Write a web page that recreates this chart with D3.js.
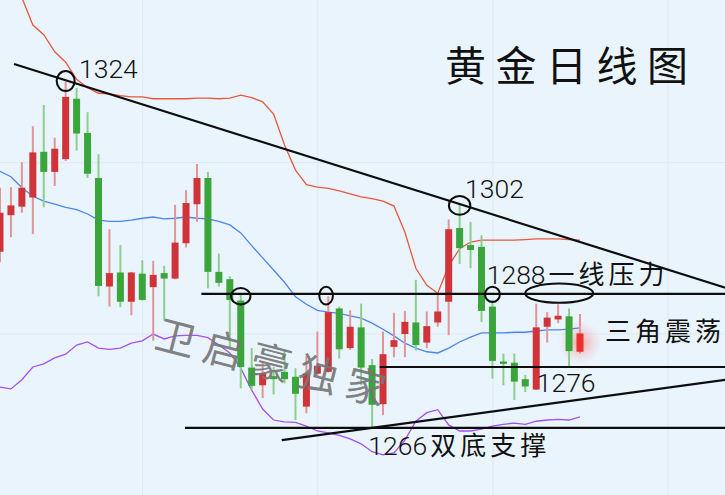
<!DOCTYPE html>
<html><head><meta charset="utf-8">
<script src="https://cdn.jsdelivr.net/npm/d3@7/dist/d3.min.js"></script>
<style>
html,body{margin:0;padding:0;background:#eaf4fc;overflow:hidden}
svg{display:block}
</style></head><body>
<svg id="chart" width="725" height="495"></svg>
<script>
// ---- data (daily gold candles) ----
const opens = [1294.9,1300.9,1302.3,1303.8,1311.3,1308.0,1310.1,1320.0,1314.4,1307.0,
  1289.2,1291.5,1286.7,1291.3,1289.1,1291.4,1290.5,1296.3,1302.7,1307.0,
  1291.6,1290.4,1286.9,1275.9,1273.0,1274.5,1275.2,1274.4,1269.5,1274.9,
  1275.2,1285.6,1279.1,1282.5,1276.3,1269.9,1279.3,1281.4,1283.3,1280.0,
  1283.3,1286.7,1298.8,1296.0,1295.7,1285.9,1276.9,1276.7,1274.0,1272.3,
  1282.6,1283.8,1284.3,1278.5];
const highs = [1305.4,1305.5,1309.6,1315.5,1319.0,1313.6,1322.8,1321.8,1317.8,1310.9,
  1298.6,1296.0,1291.6,1293.5,1293.4,1292.6,1302.6,1305.0,1309.3,1308.0,
  1294.6,1290.9,1288.0,1279.1,1276.9,1276.0,1278.8,1275.8,1277.8,1281.8,
  1287.6,1285.9,1285.3,1286.4,1277.3,1281.8,1284.9,1285.2,1290.3,1285.1,
  1288.3,1300.2,1302.6,1299.8,1297.6,1287.0,1278.2,1278.2,1274.7,1286.4,
  1285.0,1286.3,1285.6,1284.7];
const lows = [1293.2,1297.3,1301.3,1297.8,1302.2,1305.7,1309.8,1311.5,1307.0,1287.6,
  1285.9,1285.8,1284.5,1286.9,1280.3,1283.6,1290.4,1295.6,1299.8,1288.9,
  1289.2,1279.1,1272.5,1272.3,1270.9,1271.5,1273.3,1267.3,1268.4,1274.6,
  1275.1,1277.4,1278.8,1273.0,1266.2,1268.1,1277.6,1277.6,1278.7,1279.1,
  1282.6,1281.2,1292.9,1292.2,1283.4,1274.1,1273.0,1270.6,1271.9,1272.2,
  1280.0,1283.2,1276.0,1278.2];
const closes = [1301.3,1302.5,1305.4,1311.2,1308.0,1311.8,1320.3,1314.3,1307.7,1289.3,
  1291.4,1286.7,1291.5,1287.0,1291.1,1290.5,1296.4,1302.9,1307.0,1291.6,
  1289.8,1287.0,1276.0,1272.9,1275.0,1274.0,1274.0,1271.6,1274.9,1276.2,
  1285.0,1278.9,1282.6,1275.9,1269.8,1278.1,1280.4,1283.4,1279.6,1282.7,
  1285.1,1298.6,1295.5,1295.2,1285.2,1277.0,1276.5,1273.6,1272.8,1282.5,
  1284.1,1284.4,1278.6,1281.5];
// Bollinger bands
const upperBand = [1344.4,1341.1,1336.6,1332.1,1330.5,1327.7,1326.0,1323.2,1321.8,1320.9,
  1320.8,1320.5,1320.3,1320.3,1320.0,1320.0,1320.0,1320.0,1320.1,1320.1,
  1320.0,1320.1,1320.6,1320.2,1319.5,1317.5,1312.4,1308.3,1305.9,1305.5,
  1305.3,1304.9,1304.4,1303.9,1303.6,1303.2,1302.4,1298.1,1292.2,1289.4,
  1288.1,1292.6,1295.4,1296.5,1296.8,1296.8,1296.8,1296.8,1296.9,1297.0,
  1297.0,1297.0,1296.9,1296.8];
const midBand = [1308.1,1307.2,1305.4,1304.0,1303.2,1302.7,1302.2,1301.8,1301.1,1300.1,
  1299.9,1299.9,1300.1,1300.4,1300.6,1300.3,1300.4,1300.6,1300.4,1300.3,
  1299.9,1299.3,1298.0,1295.9,1293.9,1291.9,1289.9,1287.5,1286.3,1285.3,
  1285.0,1284.8,1284.4,1284.0,1283.2,1282.2,1281.1,1279.9,1279.1,1278.5,
  1278.3,1279.1,1280.1,1280.9,1281.6,1281.6,1281.6,1281.7,1281.7,1281.9,
  1282.1,1282.1,1282.2,1282.4];
const lowerBand = [1272.7,1272.4,1273.9,1276.0,1276.5,1277.5,1278.1,1279.6,1280.1,1279.1,
  1278.9,1279.1,1279.9,1280.3,1281.4,1280.6,1281.1,1281.2,1281.2,1280.8,
  1279.6,1278.3,1275.8,1272.2,1269.1,1267.3,1267.0,1266.9,1266.3,1265.5,
  1265.2,1264.8,1264.2,1263.4,1262.1,1261.6,1261.9,1264.0,1267.1,1268.5,
  1269.0,1266.5,1265.5,1265.5,1265.8,1266.3,1266.6,1266.8,1266.6,1267.1,
  1267.3,1267.4,1267.3,1267.8];
// reference levels (price) and where each starts (candle index)
const levels = [1288, 1276, 1266];
const levelStarts = [18.4, 34.7, 16.9];
// sloped trendlines: [index, price] endpoints
const resistanceLine = [[1.28, 1325.7], [66.3, 1289.0]];
const supportLine = [[25.75, 1264.0], [66.3, 1273.9]];
// circled points: [index, price]
const circledPoints = [[6.0, 1322.9], [22.0, 1287.6], [29.8, 1287.7], [42.0, 1302.5], [45.0, 1287.9]];
const oscillationZone = [51.1, 1288.1];
// text labels: [index, price, number, words]
const labels = [
  [7.22, 1323.4, "1324", ""],
  [42.5, 1303.7, "1302", ""],
  [44.48, 1289.6, "1288", "一线压力"],
  [49.05, 1271.9, "1276", ""],
  [33.66, 1261.6, "1266", "双底支撑"],
  [55.29, 1280.3, "", "三角震荡"]
];
const title = "黄金日线图";
const watermark = "卫启豪独家";
const gridIndex = [13, 29, 45, 61];
const gridPrice = [1281.5, 1309.6];

// ---- drawing ----
const W = 725, H = 495;
const svg = d3.select('#chart');
const x = d3.scaleLinear().domain([0, 53]).range([0, 580]);
const y = d3.scaleLinear().domain([1255, 1336.2]).range([H, 0]);

const defs = svg.append('defs');
const rg = defs.append('radialGradient').attr('id', 'glow');
rg.append('stop').attr('offset', '0%').attr('stop-color', '#ff4040').attr('stop-opacity', 0.45);
rg.append('stop').attr('offset', '60%').attr('stop-color', '#ff6060').attr('stop-opacity', 0.15);
rg.append('stop').attr('offset', '100%').attr('stop-color', '#ff8080').attr('stop-opacity', 0);

svg.append('rect').attr('width', W).attr('height', H).attr('fill', '#eaf4fc');

// grid via axes
const gx = svg.append('g').attr('transform', `translate(0,${H})`)
  .call(d3.axisBottom(x).tickValues(gridIndex).tickSize(-H).tickFormat(''));
const gy = svg.append('g')
  .call(d3.axisLeft(y).tickValues(gridPrice).tickSize(-W).tickFormat(''));
[gx, gy].forEach(g => {
  g.select('.domain').remove();
  g.selectAll('.tick line').attr('stroke', '#dfe9f3').attr('stroke-width', 1);
});

// bands
const bandLine = d3.line().x((d, i) => x(i)).y(d => y(d));
svg.append('path').datum(upperBand).attr('d', bandLine).attr('fill', 'none')
  .attr('stroke', '#e8583e').attr('stroke-width', 1.3);
svg.append('path').datum(midBand).attr('d', bandLine).attr('fill', 'none')
  .attr('stroke', '#4a86f2').attr('stroke-width', 1.3);
svg.append('path').datum(lowerBand).attr('d', bandLine).attr('fill', 'none')
  .attr('stroke', '#a550f2').attr('stroke-width', 1.3);

// glow under last candle
const last = opens.length - 1;
svg.append('circle').attr('cx', x(last)).attr('cy', y((opens[last] + closes[last]) / 2))
  .attr('r', 22).attr('fill', 'url(#glow)');

// candles
const idx = d3.range(opens.length);
const up = i => closes[i] >= opens[i];
const candles = svg.append('g').selectAll('g').data(idx).join('g');
candles.append('line')
  .attr('x1', i => x(i)).attr('x2', i => x(i))
  .attr('y1', i => y(highs[i])).attr('y2', i => y(lows[i]))
  .attr('stroke', i => up(i) ? '#e29499' : '#8ccf8c').attr('stroke-width', 2);
candles.append('rect')
  .attr('x', i => x(i) - 3.5).attr('width', 7)
  .attr('y', i => y(Math.max(opens[i], closes[i])))
  .attr('height', i => Math.max(1.6, Math.abs(y(opens[i]) - y(closes[i]))))
  .attr('fill', i => i === last ? '#e8302f' : (up(i) ? '#d13438' : '#3aa53a'));

// level lines
const lines = svg.append('g').attr('stroke', '#0d0d0d').attr('stroke-width', 2.2).attr('fill', 'none');
levels.forEach((p, k) => {
  lines.append('line').attr('x1', x(levelStarts[k])).attr('x2', W)
    .attr('y1', y(p)).attr('y2', y(p));
});
const seg = d3.line().x(d => x(d[0])).y(d => y(d[1]));
lines.append('path').attr('d', seg(resistanceLine));
lines.append('path').attr('d', seg(supportLine));

// circles
const circleR = [[9, 10], [9.7, 8.2], [6.8, 8.8], [10.7, 9.4], [7.4, 7.6]];
svg.append('g').selectAll('ellipse').data(circledPoints).join('ellipse')
  .attr('cx', d => x(d[0])).attr('cy', d => y(d[1]))
  .attr('rx', (d, i) => circleR[i][0]).attr('ry', (d, i) => circleR[i][1])
  .attr('fill', 'none').attr('stroke', '#0d0d0d').attr('stroke-width', 2);
svg.append('ellipse').attr('cx', x(oscillationZone[0])).attr('cy', y(oscillationZone[1]))
  .attr('rx', 34).attr('ry', 9.6)
  .attr('fill', 'none').attr('stroke', '#0d0d0d').attr('stroke-width', 2);

// watermark
svg.append('text')
  .attr('transform', 'translate(153,347) rotate(14.5)')
  .attr('font-family', '"Noto Sans CJK SC", sans-serif').attr('font-weight', 400)
  .attr('font-size', 40).attr('letter-spacing', 9)
  .attr('fill', '#767676').attr('fill-opacity', 0.92)
  .text(watermark);

// labels
const lab = svg.append('g').selectAll('text').data(labels).join('text')
  .attr('x', d => x(d[0])).attr('y', d => y(d[1])).attr('fill', '#111');
lab.append('tspan')
  .attr('font-family', 'Roboto, "Liberation Sans", sans-serif').attr('font-weight', 300)
  .attr('font-size', 26.5).text(d => d[2]);
lab.append('tspan')
  .attr('font-family', '"Noto Sans CJK SC", sans-serif').attr('font-weight', 400)
  .attr('font-size', 26).attr('letter-spacing', 4).attr('dx', d => d[2] ? 3 : 0)
  .text(d => d[3]);

// title
svg.append('text').attr('x', x(40.67)).attr('y', y(1322.9))
  .attr('font-family', '"Noto Sans CJK SC", sans-serif').attr('font-weight', 400)
  .attr('font-size', 41).attr('letter-spacing', 9.5).attr('fill', '#111')
  .text(title);
</script>
</body></html>
